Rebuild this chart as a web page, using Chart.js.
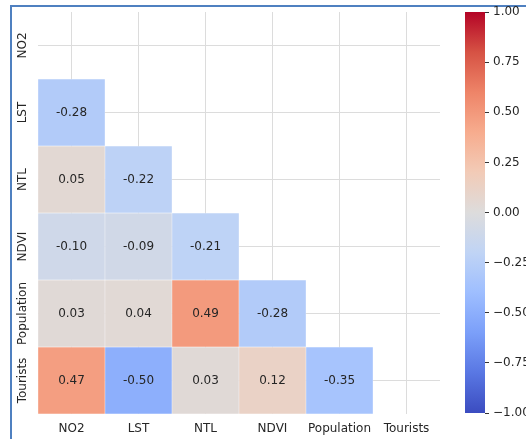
<!DOCTYPE html>
<html>
<head>
<meta charset="utf-8">
<script src="https://cdn.jsdelivr.net/npm/chart.js@4.4.0/dist/chart.umd.min.js"></script>
<style>
   body { margin: 0; background: #ffffff; }
   #wrap { position: relative; width: 526px; height: 439px; overflow: hidden; }
   #frame { position: absolute; left: 10px; top: 5px; width: 600px; height: 500px;
      border-left: 2px solid #4f80c0; border-top: 2px solid #4f80c0; }
   #heatmap { position: absolute; left: 0; top: 0; }
   #colorbar { position: absolute; left: 440px; top: 0; }
</style>
</head>
<body>
<div id="wrap">
   <div id="frame"></div>
   <canvas id="heatmap" width="440" height="439"></canvas>
   <canvas id="colorbar" width="86" height="439"></canvas>
</div>
<script>
/*** Data - ma trận tương quan (tam giác dưới) */
var gVariables = ["NO2", "LST", "NTL", "NDVI", "Population", "Tourists"];
var gCorrLST = [-0.28];
var gCorrNTL = [0.05, -0.22];
var gCorrNDVI = [-0.10, -0.09, -0.21];
var gCorrPopulation = [0.03, 0.04, 0.49, -0.28];
var gCorrTourists = [0.47, -0.50, 0.03, 0.12, -0.35];
var gLowerRows = [[], gCorrLST, gCorrNTL, gCorrNDVI, gCorrPopulation, gCorrTourists];
var gColorbarTicks = [-1, -0.75, -0.5, -0.25, 0, 0.25, 0.5, 0.75, 1];

// coolwarm colormap (11 mẫu, từ -1 đến 1)
var gCoolwarm = ["#3b4cc0", "#5977e3", "#7b9ff9", "#9ebeff", "#c0d4f5", "#dddcdc",
   "#f2cbb7", "#f7ac8e", "#ee8468", "#d65244", "#b40426"];

var gFont = { family: "'DejaVu Sans', sans-serif", size: 12 };
var gTextColor = "#262626";

function hexToRgb(paramHex) {
   var n = parseInt(paramHex.slice(1), 16);
   return [(n >> 16) & 255, (n >> 8) & 255, n & 255];
}

//Lấy màu theo giá trị tương quan
function coolwarm(paramValue) {
   var t = (paramValue + 1) / 2 * (gCoolwarm.length - 1);
   var i = Math.min(Math.floor(t), gCoolwarm.length - 2);
   var f = t - i;
   var a = hexToRgb(gCoolwarm[i]);
   var b = hexToRgb(gCoolwarm[i + 1]);
   var c = a.map(function (v, k) { return Math.round(v + (b[k] - v) * f); });
   return "rgb(" + c.join(",") + ")";
}

//Tạo dataset cho mỗi hàng (thanh nổi [r, r+1])
function buildDatasets() {
   var vDatasets = [];
   gLowerRows.forEach(function (row, r) {
      if (row.length == 0) return;
      var vData = gVariables.map(function (name, c) { return c < row.length ? [r, r + 1] : null; });
      var vColors = gVariables.map(function (name, c) { return c < row.length ? coolwarm(row[c]) : "transparent"; });
      vDatasets.push({
         label: gVariables[r],
         data: vData,
         corr: row,
         backgroundColor: vColors,
         borderColor: "rgba(255,255,255,0.7)",
         borderWidth: 0.5,
         borderSkipped: false,
         grouped: false,
         barPercentage: 1,
         categoryPercentage: 1,
      });
   });
   return vDatasets;
}

//Plugin ghi giá trị lên ô + nhãn trục y xoay dọc
var annotatePlugin = {
   id: "annotate",
   afterDatasetsDraw: function (chart) {
      var ctx = chart.ctx;
      ctx.save();
      ctx.font = gFont.size + "px " + gFont.family;
      ctx.fillStyle = gTextColor;
      ctx.textAlign = "center";
      ctx.textBaseline = "middle";
      chart.data.datasets.forEach(function (ds, i) {
         chart.getDatasetMeta(i).data.forEach(function (bar, c) {
            if (c >= ds.corr.length) return;
            ctx.fillText(ds.corr[c].toFixed(2), bar.x, (bar.y + bar.base) / 2);
         });
      });
      var yScale = chart.scales.y;
      gVariables.forEach(function (name, r) {
         ctx.save();
         ctx.translate(23, yScale.getPixelForValue(r + 0.5));
         ctx.rotate(-Math.PI / 2);
         ctx.fillText(name, 0, 0);
         ctx.restore();
      });
      ctx.restore();
   },
};

new Chart(document.getElementById("heatmap"), {
   type: "bar",
   data: { labels: gVariables, datasets: buildDatasets() },
   plugins: [annotatePlugin],
   options: {
      responsive: false,
      animation: false,
      layout: { padding: { top: 12, left: 0, right: 0, bottom: 0 } },
      plugins: { legend: { display: false }, tooltip: { enabled: false } },
      scales: {
         x: {
            grid: { offset: false, color: "#dcdcdc", drawTicks: false },
            border: { display: false },
            ticks: { color: gTextColor, font: gFont, padding: 8, maxRotation: 0 },
            afterFit: function (scale) { scale.height = 25; },
         },
         y: {
            type: "linear",
            min: 0,
            max: 6,
            reverse: true,
            grid: { color: "#dcdcdc", drawTicks: false },
            border: { display: false },
            ticks: { display: false },
            afterBuildTicks: function (scale) {
               scale.ticks = gVariables.map(function (name, r) { return { value: r + 0.5 }; });
            },
            afterFit: function (scale) { scale.width = 38; },
         },
      },
   },
});

//COLORBAR
new Chart(document.getElementById("colorbar"), {
   type: "bar",
   data: {
      labels: [""],
      datasets: [{
         data: [[-1, 1]],
         backgroundColor: function (context) {
            var chartArea = context.chart.chartArea;
            if (!chartArea) return gCoolwarm[5];
            var g = context.chart.ctx.createLinearGradient(0, chartArea.bottom, 0, chartArea.top);
            gCoolwarm.forEach(function (col, i) { g.addColorStop(i / (gCoolwarm.length - 1), col); });
            return g;
         },
         borderWidth: 0,
         barPercentage: 1,
         categoryPercentage: 1,
      }],
   },
   options: {
      responsive: false,
      animation: false,
      layout: { padding: { top: 12, left: 25, right: 0, bottom: 26 } },
      plugins: { legend: { display: false }, tooltip: { enabled: false } },
      scales: {
         x: { display: false },
         y: {
            position: "right",
            min: -1,
            max: 1,
            grid: { drawOnChartArea: false, drawTicks: true, tickLength: 4, tickColor: "#333333" },
            border: { display: false },
            ticks: {
               color: gTextColor,
               font: gFont,
               padding: 4,
               callback: function (v) { return (v < 0 ? "\u2212" : "") + Math.abs(v).toFixed(2); },
            },
            afterBuildTicks: function (scale) {
               scale.ticks = gColorbarTicks.map(function (v) { return { value: v }; });
            },
            afterFit: function (scale) { scale.width = 41; },
         },
      },
   },
});
</script>
</body>
</html>
